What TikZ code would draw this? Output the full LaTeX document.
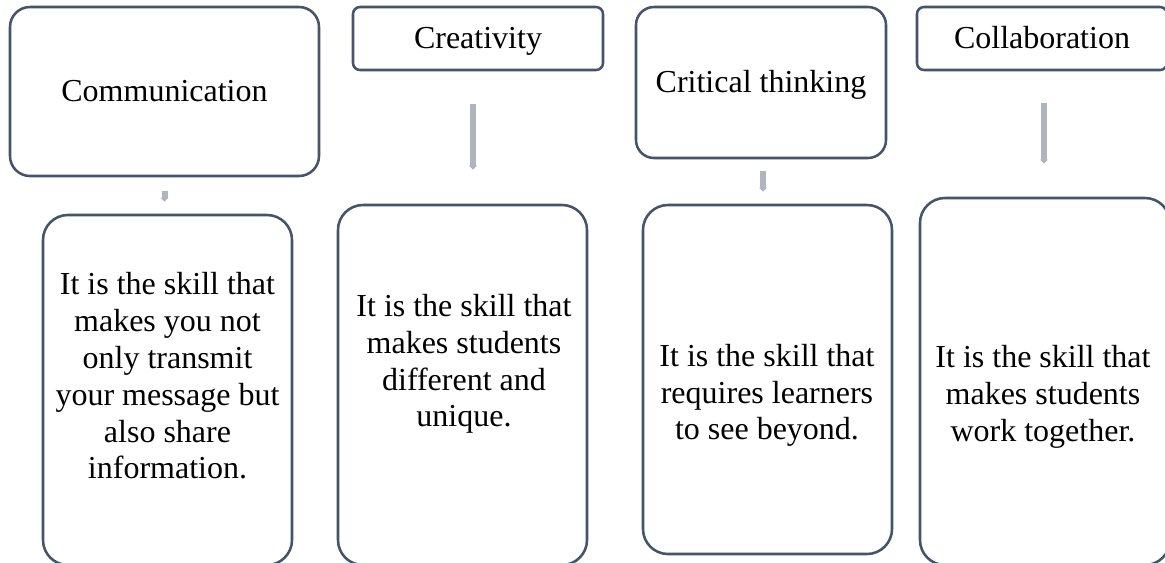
\documentclass[tikz,border=0pt]{standalone}
\usepackage{fontspec}
\setmainfont{Liberation Serif}
\usetikzlibrary{arrows.meta,calc}
\def\px{0.75pt}
\definecolor{boxline}{RGB}{68,84,106}
\definecolor{arrowgray}{RGB}{176,180,188}
\begin{document}
\begin{tikzpicture}[x=0.75pt,y=-0.75pt,
  box/.style={draw=boxline,line width=1.9pt,fill=white,inner sep=0pt},
  label/.style={font=\fontsize{24}{27.6}\selectfont,text height=19.25pt,text depth=4pt},
  txt/.style={align=center,font=\fontsize{24}{27.6}\selectfont,inner sep=0pt},
  conn/.style={draw=arrowgray,line width=4.5pt,-{Triangle[width=5.5pt,length=3pt]}}]
\useasboundingbox (0,0) rectangle (1165,562);
\clip (0,0) rectangle (1165,562);
\fill[white] (0,0) rectangle (1165,562);
% top boxes
\node[box,label,rounded corners=20*\px,minimum width=309*\px,minimum height=169*\px] (t1) at (164.5,91.5) {Communication};
\node[box,label,rounded corners=7*\px,minimum width=250*\px,minimum height=63*\px] (t2) at (478,38.5) {Creativity};
\node[box,label,rounded corners=18*\px,minimum width=250*\px,minimum height=151*\px] (t3) at (761,82.5) {Critical thinking};
\node[box,label,rounded corners=7*\px,minimum width=250*\px,minimum height=63*\px] (t4) at (1042,38.5) {Collaboration};
% bottom boxes
\node[box,rounded corners=25*\px,minimum width=249*\px,minimum height=350*\px] (b1) at (167.5,390) {};
\node[box,rounded corners=25*\px,minimum width=249*\px,minimum height=360*\px] (b2) at (462.5,385) {};
\node[box,rounded corners=25*\px,minimum width=249*\px,minimum height=349*\px] (b3) at (767.5,379.5) {};
\node[box,rounded corners=25*\px,minimum width=250*\px,minimum height=367*\px] (b4) at (1045,381.5) {};
% texts
\node[txt] (b1t) at (167.5,376) {It is the skill that\\makes you not\\only transmit\\your message but\\also share\\information.};
\node[txt] (b2t) at (464,364) {It is the skill that\\makes students\\different and\\unique.};
\node[txt] (b3t) at (767,395.5) {It is the skill that\\requires learners\\to see beyond.};
\node[txt] (b4t) at (1043,397) {It is the skill that\\makes students\\work together.};
% connectors
\draw[conn,shorten <=14*\px,shorten >=12*\px] (t1.south) -- (t1.south |- b1.north);
\draw[conn,shorten <=33*\px,shorten >=34*\px] ([xshift=-5*\px]t2.south) -- ([xshift=-5*\px]t2.south |- b2.north);
\draw[conn,shorten <=12*\px,shorten >=12*\px] ([xshift=2*\px]t3.south) -- ([xshift=2*\px]t3.south |- b3.north);
\draw[conn,shorten <=32*\px,shorten >=33*\px] ([xshift=2*\px]t4.south) -- ([xshift=2*\px]t4.south |- b4.north);
\end{tikzpicture}
\end{document}
